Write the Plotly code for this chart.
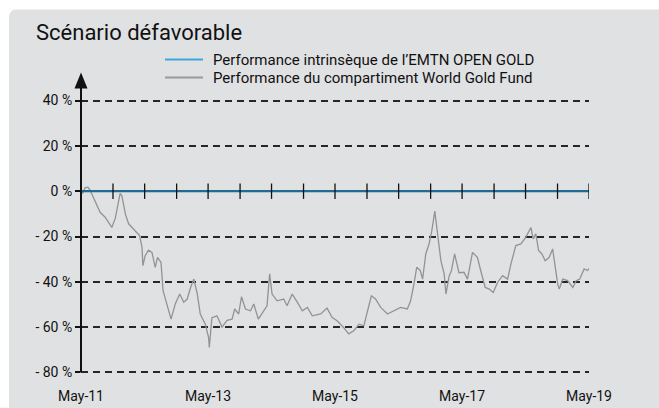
import plotly.graph_objects as go

# ---- data ----
fund_dates = [
    "2011-05-01", "2011-05-11", "2011-05-24", "2011-06-10", "2011-06-22", "2011-07-11", "2011-08-02",
    "2011-08-19", "2011-09-17", "2011-10-04", "2011-10-25", "2011-11-14", "2011-11-24", "2011-12-12",
    "2011-12-22", "2012-01-11", "2012-01-30", "2012-03-08", "2012-04-02", "2012-04-16", "2012-04-21",
    "2012-05-04", "2012-05-23", "2012-06-12", "2012-07-01", "2012-07-14", "2012-08-03", "2012-08-15",
    "2012-09-07", "2012-09-30", "2012-10-24", "2012-11-19", "2012-12-12", "2013-01-01", "2013-01-20",
    "2013-02-08", "2013-02-28", "2013-03-17", "2013-04-15", "2013-05-04", "2013-05-08", "2013-05-23",
    "2013-06-21", "2013-07-20", "2013-08-18", "2013-09-16", "2013-10-01", "2013-10-24", "2013-11-09",
    "2013-12-02", "2013-12-31", "2014-01-19", "2014-02-14", "2014-03-16", "2014-04-05", "2014-04-20",
    "2014-05-04", "2014-06-02", "2014-07-10", "2014-07-29", "2014-08-28", "2014-09-26", "2014-10-25",
    "2014-11-23", "2014-12-21", "2015-02-08", "2015-03-16", "2015-04-15", "2015-05-13", "2015-06-20",
    "2015-07-19", "2015-08-17", "2015-09-16", "2015-10-14", "2015-11-03", "2015-11-26", "2015-12-20",
    "2016-01-19", "2016-02-27", "2016-04-04", "2016-05-12", "2016-06-20", "2016-07-09", "2016-07-28",
    "2016-08-13", "2016-09-02", "2016-09-16", "2016-10-04", "2016-10-23", "2016-11-08", "2016-11-25",
    "2016-12-11", "2016-12-30", "2017-01-18", "2017-01-28", "2017-02-16", "2017-03-01", "2017-03-19",
    "2017-04-13", "2017-05-12", "2017-06-01", "2017-06-30", "2017-07-28", "2017-08-16", "2017-09-11",
    "2017-10-04", "2017-10-27", "2017-11-21", "2017-12-20", "2018-01-18", "2018-02-06", "2018-03-06",
    "2018-04-04", "2018-05-02", "2018-06-01", "2018-06-14", "2018-06-29", "2018-07-15", "2018-08-03",
    "2018-08-22", "2018-09-14", "2018-10-04", "2018-10-19", "2018-11-02", "2018-11-11", "2018-12-01",
    "2018-12-29", "2019-01-28", "2019-02-16", "2019-03-09", "2019-04-03", "2019-04-23", "2019-05-05",
]
fund_values = [
    0, -1, 1.5, 1.8, 0.5, -2.6, -6,
    -9.3, -11.5, -13.5, -16, -12, -8.5, -1,
    -2, -10, -14.4, -17.4, -19.6, -24.8, -32.9,
    -28.5, -26, -27, -33.6, -29.2, -31.4, -43.9,
    -49.8, -56.5, -49.8, -45.4, -49, -47.6, -42.5,
    -38.8, -45.4, -54.2, -58.7, -64.6, -69, -55.8,
    -55, -60, -57, -56.5, -52, -54.2, -46.6,
    -52, -52.8, -49.8, -56.5, -52.8, -50.6, -36.5,
    -45.4, -48.4, -47.6, -50.6, -45.4, -49, -52.8,
    -51.3, -55, -54.2, -51.6, -55.8, -57.2, -60.2,
    -63, -61.6, -58.7, -59.4, -52.8, -46.2, -47.6,
    -51.3, -54.2, -52.8, -51.3, -52, -48.4, -41,
    -33.6, -35, -38.8, -27.7, -23.3, -17.4, -8.8,
    -18.8, -30.7, -36.5, -45.4, -37.3, -35, -27.7,
    -36, -35.8, -38.8, -27, -29.2, -35, -42.5,
    -43.2, -44.7, -40.3, -37.3, -38.8, -32.1, -24,
    -23.3, -20.4, -16, -21.1, -18.8, -26.2, -27.7,
    -30.7, -29.2, -25.5, -33.6, -41, -43.2, -38.8,
    -39.5, -42.5, -39.5, -38.8, -34.3, -35, -33.9,
]
emtn_dates = ["2011-05-01", "2019-05-01"]
emtn_values = [0, 0]

half_year_ticks = [
    "2011-05-01", "2011-11-01", "2012-05-01", "2012-11-01", "2013-05-01", "2013-11-01",
    "2014-05-01", "2014-11-01", "2015-05-01", "2015-11-01", "2016-05-01", "2016-11-01",
    "2017-05-01", "2017-11-01", "2018-05-01", "2018-11-01", "2019-05-01",
]
x_label_dates = ["2011-05-01", "2013-05-01", "2015-05-01", "2017-05-01", "2019-05-01"]
x_labels = ["May-11", "May-13", "May-15", "May-17", "May-19"]
y_tick_vals = [40, 20, 0, -20, -40, -60, -80]
y_tick_text = ["40 %", "20 %", "0 %", "- 20 %", "- 40 %", "- 60 %", "- 80 %"]

title_text = "Scénario défavorable"
name_emtn = "Performance intrinsèque de l’EMTN OPEN GOLD"
name_fund = "Performance du compartiment World Gold Fund"

# ---- layout geometry (pixels) ----
W, H = 659, 408
Y_LO, Y_HI = -80.7, 40.7
PX_PER_PCT = (372.7 - 101) / 120.0
L, R = 81, 589
T = 101 - (Y_HI - 40) * PX_PER_PCT
B = 372.7 + (-80 - Y_LO) * PX_PER_PCT
PW, PH = R - L, B - T


def px(x):
    return (x - L) / PW


def py(y):
    return (B - y) / PH


BG = "#e0e1e3"
FONT = "Roboto"

fig = go.Figure()
fig.add_trace(go.Scatter(x=fund_dates, y=fund_values, mode="lines", name=name_fund,
                         line=dict(color="#939393", width=1.3), showlegend=False))
fig.add_trace(go.Scatter(x=emtn_dates, y=emtn_values, mode="lines", name=name_emtn,
                         line=dict(color="#1f6b94", width=2.2), showlegend=False))
fig.add_trace(go.Scatter(x=half_year_ticks, y=[0] * len(half_year_ticks), mode="markers",
                         marker=dict(symbol="line-ns", size=11, line=dict(width=1.3, color="#111")),
                         showlegend=False, hoverinfo="skip"))

shapes = [
    # white margins around the rounded grey panel
    dict(type="rect", xref="paper", yref="paper", x0=px(0), x1=px(W), y0=py(10), y1=py(0),
         fillcolor="white", line=dict(width=0), layer="below"),
    dict(type="rect", xref="paper", yref="paper", x0=px(0), x1=px(9), y0=py(H), y1=py(0),
         fillcolor="white", line=dict(width=0), layer="below"),
    dict(type="path", xref="paper", yref="paper",
         path=f"M {px(9)},{py(10)} L {px(17)},{py(10)} Q {px(9)},{py(10)} {px(9)},{py(18)} Z",
         fillcolor="white", line=dict(width=0), layer="below"),
    # y axis with arrow
    dict(type="line", xref="paper", yref="paper", x0=0, x1=0, y0=py(372.7), y1=py(86),
         line=dict(color="#111", width=2)),
    dict(type="path", xref="paper", yref="paper",
         path=f"M {px(74.5)},{py(89)} L {px(87.5)},{py(89)} L {px(81)},{py(73)} Z",
         fillcolor="#111", line=dict(width=0)),
    # legend swatches
    dict(type="line", xref="paper", yref="paper", x0=px(165), x1=px(203), y0=py(60), y1=py(60),
         line=dict(color="#3fa6dc", width=2)),
    dict(type="line", xref="paper", yref="paper", x0=px(165), x1=px(203), y0=py(78), y1=py(78),
         line=dict(color="#9a9a9a", width=2)),
]

annotations = [
    dict(text=title_text, xref="paper", yref="paper", x=px(34), y=py(33), xanchor="left",
         yanchor="middle", showarrow=False, font=dict(family=FONT, size=22, color="#111")),
    dict(text=name_emtn, xref="paper", yref="paper", x=px(211), y=py(60), xanchor="left",
         yanchor="middle", showarrow=False, font=dict(family=FONT, size=15, color="#111")),
    dict(text=name_fund, xref="paper", yref="paper", x=px(211), y=py(78), xanchor="left",
         yanchor="middle", showarrow=False, font=dict(family=FONT, size=15, color="#111")),
]

fig.update_layout(
    width=W, height=H,
    margin=dict(l=L, r=W - R, t=T, b=H - B),
    paper_bgcolor=BG, plot_bgcolor=BG,
    showlegend=False,
    shapes=shapes, annotations=annotations,
    font=dict(family=FONT, color="#111"),
    xaxis=dict(type="date", range=["2011-05-01", "2019-05-01"], showgrid=False, zeroline=False,
               showline=False, tickvals=x_label_dates, ticktext=x_labels, ticks="outside",
               ticklen=9, tickcolor="rgba(0,0,0,0)", tickfont=dict(size=14, color="#111"),
               automargin=False),
    yaxis=dict(range=[Y_LO, Y_HI], tickvals=y_tick_vals, ticktext=y_tick_text, showgrid=True,
               gridcolor="#262626", gridwidth=1.8, griddash="7px,5px",
               zeroline=True, zerolinecolor="#1f6b94", zerolinewidth=2.2,
               showline=False, ticks="outside", ticklen=5, tickwidth=1.5, tickcolor="#111",
               tickfont=dict(size=14, color="#111"), automargin=False),
)

fig.write_html("out.html", config={"displayModeBar": False},
               post_script="document.body.style.margin='0';document.body.style.overflow='hidden';")
